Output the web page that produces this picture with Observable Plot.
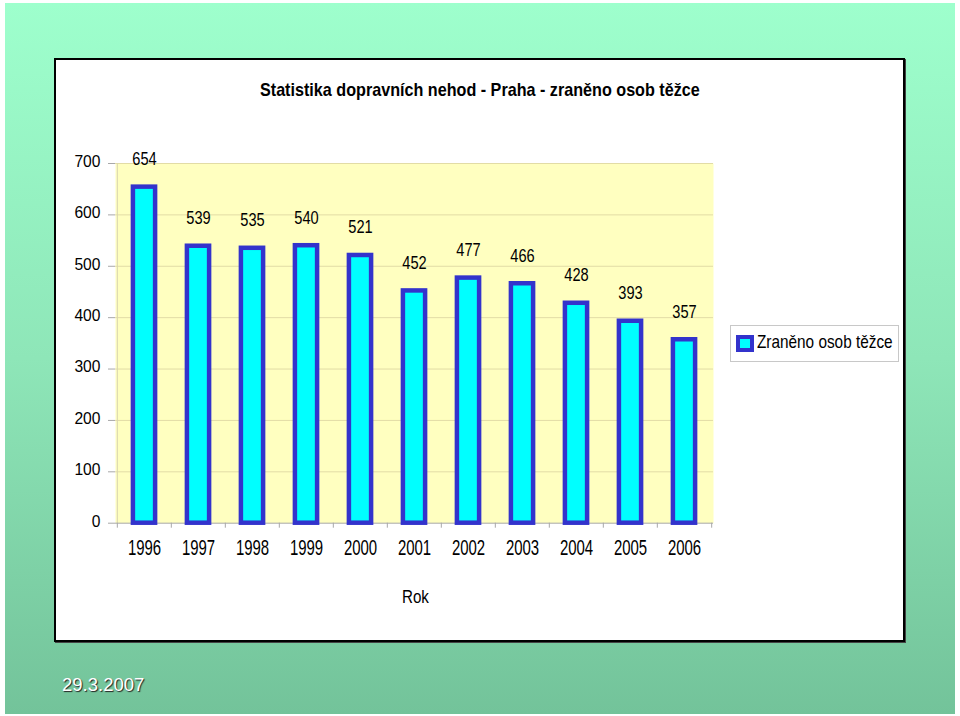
<!DOCTYPE html>
<html>
<head>
<meta charset="utf-8">
<script src="https://cdn.jsdelivr.net/npm/d3@7"></script>
<script src="https://cdn.jsdelivr.net/npm/@observablehq/plot@0.6"></script>
<style>
  html, body { margin: 0; padding: 0; background: #fff; }
  #stage { position: relative; width: 960px; height: 716px; overflow: hidden; font-family: Arial, "Liberation Sans", sans-serif; }
  .bg { position: absolute; left: 5px; top: 3px; width: 950px; height: 711px;
        background: linear-gradient(to bottom, #9effcd 0%, #8ee6b8 50%, #73c39a 100%); }
  .box { position: absolute; left: 54px; top: 58px; width: 847px; height: 580px; background: #fff;
         border: 2px solid #000; box-shadow: 1px 1px 0 #444; }
  #chart { position: absolute; left: 0; top: 0; }
  .txt { position: absolute; white-space: nowrap; line-height: 18.5px; font-size: 18.5px; color: #000; }
  .txt span { display: inline-block; transform-origin: 0 50%; }
  .title { left: 0; width: 960px; top: 81px; text-align: center; font-weight: bold; }
  .title span { transform-origin: 50% 50%; }
  .rok { left: 0; width: 830px; top: 587.6px; text-align: center; }
  .rok span { transform-origin: 50% 50%; }
  .date { left: 62px; top: 675.6px; color: #fff; text-shadow: 1px 1px 1px #222; }
  .legend { position: absolute; left: 730px; top: 325px; width: 167px; height: 35px; border: 1px solid #c8c8c8; background: #fff; }
  .swatch { position: absolute; left: 736px; top: 335px; width: 10px; height: 9px; border: 4px solid #3333cc; background: #00ffff; }
  .legtxt { left: 757px; top: 332.6px; }
</style>
</head>
<body>
<div id="stage">
  <div class="bg"></div>
  <div class="box"></div>
  <div id="chart"></div>
  <div class="txt title"><span id="title">Statistika dopravních nehod - Praha - zraněno osob těžce</span></div>
  <div class="legend"></div>
  <div class="swatch"></div>
  <div class="txt legtxt"><span id="legtxt">Zraněno osob těžce</span></div>
  <div class="txt rok"><span id="rok">Rok</span></div>
  <div class="txt date"><span>29.3.2007</span></div>
</div>
<script>
// ---- data ----
const years = ["1996", "1997", "1998", "1999", "2000", "2001", "2002", "2003", "2004", "2005", "2006"];
const injured = [654, 539, 535, 540, 521, 452, 477, 466, 428, 393, 357];
const yTicks = [0, 100, 200, 300, 400, 500, 600, 700];
const seriesName = "Zraněno osob těžce";

const data = years.map((y, i) => ({year: y, value: injured[i]}));

// ---- layout ----
const W = 960, H = 716;
const mL = 115, mR = 247, mT = 163, mB = 193.3;
const frameW = W - mL - mR, frameH = H - mT - mB;
const bw = frameW / years.length;
const gridColor = "#e2dca6";
const axisColor = "#a8a8a8";

const chart = Plot.plot({
  width: W, height: H,
  marginLeft: mL, marginRight: mR, marginTop: mT, marginBottom: mB,
  style: {background: "transparent", fontFamily: "Arial, 'Liberation Sans', sans-serif", overflow: "visible"},
  x: {type: "band", domain: years, padding: 0, axis: null},
  y: {domain: [0, 700], axis: null},
  marks: [
    Plot.frame({fill: "#ffffc0", stroke: null}),
    Plot.ruleY(yTicks.filter(d => d > 0), {y: d => d, stroke: gridColor, strokeWidth: 1}),
    Plot.tickX([years[0]], {x: d => d, dx: -bw / 2, stroke: "#d8d4b0"}),
    Plot.tickY(yTicks, {y: d => d, dx: -7, insetRight: frameW - 7, stroke: axisColor}),
    Plot.tickX(years, {x: d => d, dx: -bw / 2, insetTop: frameH - 5, dy: 5, stroke: axisColor}),
    Plot.tickX([years[years.length - 1]], {x: d => d, dx: bw / 2, insetTop: frameH - 5, dy: 5, stroke: axisColor}),
    Plot.ruleY([0], {stroke: axisColor}),
    Plot.barY(data, {x: "year", y: "value", fill: "#00ffff", stroke: "#3333cc", strokeWidth: 4.5,
                     insetLeft: 15.9, insetRight: 15.9}),
    Plot.text(data, {x: "year", y: "value", text: d => String(d.value), dy: -28, fontSize: 18.5, fill: "#000"}),
    Plot.text(years, {x: d => d, frameAnchor: "bottom", dy: 32, text: d => d, fontSize: 18, fill: "#000"}),
    Plot.text(yTicks, {y: d => d, frameAnchor: "left", dx: -15, dy: -2, textAnchor: "end",
                       text: d => String(d), fontSize: 17, fill: "#000"})
  ]
});
document.getElementById("chart").appendChild(chart);

// condense text horizontally / stretch vertically around each label's anchor
function squash(group, sx, sy) {
  if (!group) return;
  group.querySelectorAll("text").forEach(t => {
    const tr = t.getAttribute("transform") || "";
    t.setAttribute("transform", tr + ` scale(${sx},${sy})`);
  });
}
const textGroups = chart.querySelectorAll('g[aria-label="text"]');
squash(textGroups[0], 0.79, 1);     // value labels
squash(textGroups[1], 0.83, 1.22);  // year labels
squash(textGroups[2], 0.92, 1);     // y tick labels

function fitWidth(id, target) {
  const el = document.getElementById(id);
  const w = el.offsetWidth;
  if (w > 0) el.style.transform = `scaleX(${target / w})`;
}
fitWidth("title", 440);
fitWidth("legtxt", 136);
fitWidth("rok", 27);
</script>
</body>
</html>
